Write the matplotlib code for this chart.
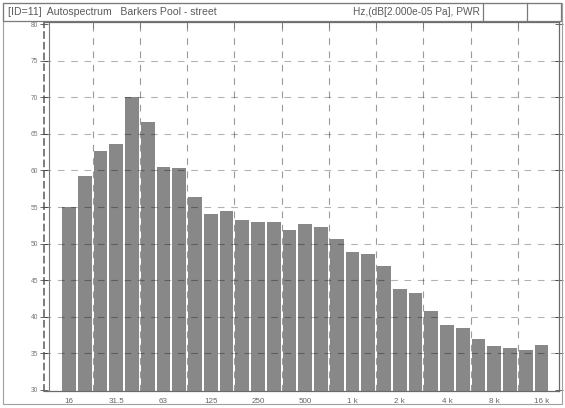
import matplotlib
matplotlib.use("Agg")
import matplotlib.pyplot as plt
from matplotlib.lines import Line2D
from matplotlib.patches import Rectangle

plt.rcParams['font.family'] = ['Liberation Sans', 'DejaVu Sans']

# 1/3-octave bands 16 Hz .. 16 kHz
bands = ["16", "20", "25", "31.5", "40", "50", "63", "80", "100", "125", "160",
         "200", "250", "315", "400", "500", "630", "800", "1 k", "1.25 k", "1.6 k",
         "2 k", "2.5 k", "3.15 k", "4 k", "5 k", "6.3 k", "8 k", "10 k", "12.5 k", "16 k"]
levels = [55.0, 59.2, 62.6, 63.6, 70.0, 66.6, 60.5, 60.3, 56.4, 54.0, 54.5,
          53.2, 53.0, 52.9, 51.9, 52.7, 52.3, 50.6, 48.9, 48.6, 47.0,
          43.8, 43.2, 40.8, 38.9, 38.5, 37.0, 36.0, 35.7, 35.5, 36.1]
tick_labels = ["16", "31.5", "63", "125", "250", "500", "1 k", "2 k", "4 k", "8 k", "16 k"]
y_ticks = [30, 35, 40, 45, 50, 55, 60, 65, 70, 75, 80]

W, H = 565, 408
fig = plt.figure(figsize=(W / 100, H / 100), dpi=100)
fig.patch.set_facecolor("white")

def fx(px):
    return px / W

def fy(py):
    return 1 - py / H

# outer frame
fig.add_artist(Rectangle((fx(3), fy(404)), fx(559), (401) / H, transform=fig.transFigure,
                         fill=False, edgecolor="#a0a0a0", linewidth=0.8))
# title bar
fig.add_artist(Rectangle((fx(3), fy(21)), fx(558), 18 / H, transform=fig.transFigure,
                         fill=False, edgecolor="#7a7a7a", linewidth=0.9))
for sx in (483, 527):
    fig.add_artist(Line2D([fx(sx), fx(sx)], [fy(3), fy(21)], transform=fig.transFigure,
                          color="#7a7a7a", linewidth=0.9))
fig.text(fx(8), fy(12), "[ID=11]  Autospectrum   Barkers Pool - street", fontsize=7.6,
         color="#5a5a5a", va="center", ha="left")
fig.text(fx(480), fy(12), "Hz,(dB[2.000e-05 Pa], PWR", fontsize=7.3,
         color="#5a5a5a", va="center", ha="right")

# axes
ax_left, ax_right, ax_top, ax_bot = 44, 559, 22, 391
ax = fig.add_axes([fx(ax_left), fy(ax_bot), (ax_right - ax_left) / W, (ax_bot - ax_top) / H])
pitch = 15.75
c0 = 69
x = list(range(len(bands)))
xl = -(c0 - ax_left) / pitch
xr = (ax_right - c0) / pitch
ax.set_xlim(xl, xr)
ppd = (390 - 24) / 50.0
ax.set_ylim(30 - (ax_bot - 390) / ppd, 80 + (24 - ax_top) / ppd)

# vertical grid (behind bars)
grid_x = [1.5 + 3 * k for k in range(10)]
for gx in grid_x:
    ax.axvline(gx, color="#9a9a9a", linewidth=0.8, linestyle=(0, (6, 6)), zorder=1)

ax.bar(x, levels, width=0.86, bottom=0, color="#888888", edgecolor="none", zorder=2)

# horizontal grid drawn on top, semi-transparent (darker over bars)
for yv in y_ticks[1:-1]:
    ax.axhline(yv, color="black", alpha=0.3, linewidth=0.8, linestyle=(0, (6, 6)), zorder=3)

ax.set_xticks(x[::3])
ax.set_xticklabels(tick_labels, fontsize=5.8, color="#666666")
ax.tick_params(axis="x", length=0, pad=5)
ax.set_xticks(grid_x, minor=True)
ax.tick_params(axis="x", which="minor", top=True, bottom=False, direction="in", length=4,
               color="#777777", width=0.7)

ax.set_yticks(y_ticks)
ax.set_yticklabels([str(v) for v in y_ticks], fontsize=4.8, color="#777777")
ax.tick_params(axis="y", direction="inout", length=6, width=0.7, color="#666666", pad=1,
               right=True)
ax.tick_params(axis="y", which="both", labelright=False)

for s in ("top", "right", "bottom"):
    ax.spines[s].set_color("#6a6a6a")
    ax.spines[s].set_linewidth(0.9)
ax.spines["left"].set_color("#5a5a5a")
ax.spines["left"].set_linewidth(1.1)
ax.spines["left"].set_linestyle((0, (4, 3)))

# inner solid frame line
fig.add_artist(Line2D([fx(49), fx(49)], [fy(391), fy(22)], transform=fig.transFigure,
                      color="#7a7a7a", linewidth=0.8))

fig.savefig("out.png", dpi=100, facecolor="white")
